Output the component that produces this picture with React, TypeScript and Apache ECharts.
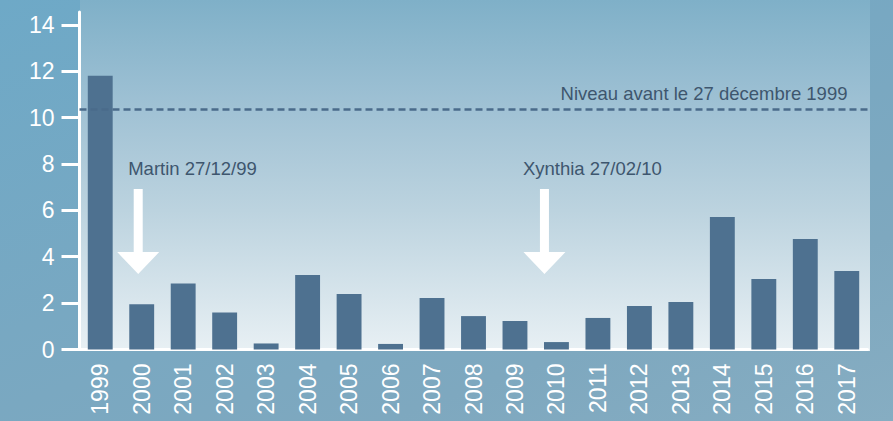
import React, { useEffect, useRef } from "react";
import * as echarts from "echarts";

const years = ["1999","2000","2001","2002","2003","2004","2005","2006","2007","2008","2009","2010","2011","2012","2013","2014","2015","2016","2017"];
const values = [11.8, 1.95, 2.84, 1.59, 0.26, 3.21, 2.39, 0.24, 2.22, 1.44, 1.23, 0.32, 1.36, 1.88, 2.05, 5.71, 3.04, 4.76, 3.38];
const yTicks = [0, 2, 4, 6, 8, 10, 12, 14];
const yMax = 14.55;
const levelValue = 10.37;
const levelLabel = "Niveau avant le 27 décembre 1999";

const annotationCategories = ["2000", "2010"];
const annotationTexts = ["Martin 27/12/99", "Xynthia 27/02/10"];
const annotationTextValue = 7.82;
const arrowTopValue = 6.92;
const arrowHeadValue = 4.2;
const arrowTipValue = 3.25;
// layout offsets (px) relative to category centre
const textDx = [-13.5, -33.5];
const arrowDx = [-3.5, -12];

const FONT = '"Liberation Sans", Arial, Helvetica, sans-serif';

export default function App() {
  const ref = useRef<HTMLDivElement>(null);
  useEffect(() => {
    const el = ref.current!;
    const chart = echarts.init(el, null, { renderer: "svg" });
    chart.setOption({
      animation: false,
      backgroundColor: "transparent",
      textStyle: { fontFamily: FONT },
      grid: {
        left: 79.5,
        right: 25.5,
        top: 12,
        bottom: 71.5,
        show: false,
      },
      xAxis: {
        type: "category",
        data: years,
        axisTick: { show: false },
        axisLine: { show: true, lineStyle: { color: "#ffffff", width: 3 } },
        axisLabel: { rotate: 90, color: "#ffffff", fontSize: 23, margin: 14, fontFamily: FONT, interval: 0 },
      },
      yAxis: {
        type: "value",
        min: 0,
        max: yMax,
        splitLine: { show: false },
        axisLine: { show: true, lineStyle: { color: "#ffffff", width: 3 } },
        axisTick: { show: true, length: 18, lineStyle: { color: "#ffffff", width: 3 }, customValues: yTicks },
        axisLabel: { color: "#ffffff", fontSize: 23, margin: 25, fontFamily: FONT, customValues: yTicks },
      },
      series: [
        {
          type: "bar",
          data: values,
          barWidth: "60%",
          itemStyle: { color: "#4e7190" },
          markLine: {
            silent: true,
            symbol: "none",
            lineStyle: { color: "#4a6b8a", width: 2.5, type: [7, 4] },
            label: {
              show: true,
              position: "insideEndTop",
              distance: [20, 6],
              formatter: levelLabel,
              color: "#3e566e",
              fontSize: 18.5,
              fontFamily: FONT,
            },
            data: [{ yAxis: levelValue }],
          },
        },
      ],
    });

    const gfx: any[] = [
      {
        type: "rect",
        z: -10,
        silent: true,
        shape: { x: 80, y: 0, width: 790, height: 351 },
        style: {
          fill: {
            type: "linear", x: 0, y: 0, x2: 0, y2: 1,
            colorStops: [
              { offset: 0, color: "#7fb0c8" },
              { offset: 0.3, color: "#9fc1d4" },
              { offset: 0.6, color: "#bcd3df" },
              { offset: 1, color: "#e8f0f4" },
            ],
          },
        },
      },
    ];
    annotationCategories.forEach((cat, i) => {
      const idx = years.indexOf(cat);
      const [cx, ty] = chart.convertToPixel({ gridIndex: 0 }, [idx, annotationTextValue]) as number[];
      const topY = (chart.convertToPixel({ gridIndex: 0 }, [idx, arrowTopValue]) as number[])[1];
      const headY = (chart.convertToPixel({ gridIndex: 0 }, [idx, arrowHeadValue]) as number[])[1];
      const tipY = (chart.convertToPixel({ gridIndex: 0 }, [idx, arrowTipValue]) as number[])[1];
      const ax = cx + arrowDx[i];
      gfx.push({
        type: "text",
        x: cx + textDx[i],
        y: ty,
        style: {
          text: annotationTexts[i],
          fill: "#3e566e",
          font: `18.5px ${FONT}`,
          textAlign: "left",
          textVerticalAlign: "middle",
        },
      });
      gfx.push({
        type: "polygon",
        shape: {
          points: [
            [ax - 4.5, topY], [ax + 4.5, topY], [ax + 4.5, headY], [ax + 21, headY],
            [ax, tipY], [ax - 21, headY], [ax - 4.5, headY],
          ],
        },
        style: { fill: "#ffffff" },
      });
    });
    chart.setOption({ graphic: gfx });

    return () => chart.dispose();
  }, []);
  return (
    <div
      style={{
        position: "absolute",
        left: 0,
        top: 0,
        width: 893,
        height: 421,
        background: "linear-gradient(160deg, #6ea9c7 0%, #78a8c2 45%, #7ea8bf 75%, #86adc2 100%)",
      }}
    >
      <div ref={ref} style={{ width: 893, height: 421 }} />
    </div>
  );
}
